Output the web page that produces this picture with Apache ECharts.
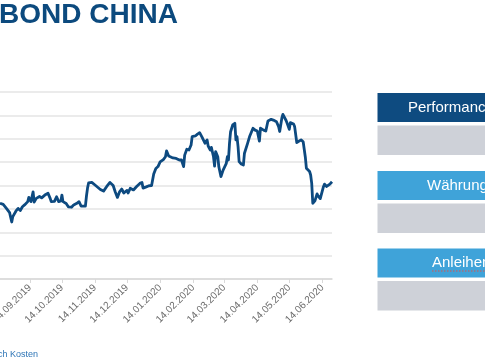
<!DOCTYPE html>
<html>
<head>
<meta charset="utf-8">
<script src="https://cdn.jsdelivr.net/npm/echarts@6/dist/echarts.min.js"></script>
<style>
html,body{margin:0;padding:0;background:#fff;}
#chart{width:485px;height:360px;}
</style>
</head>
<body>
<div id="chart"></div>
<script>
var dates = [
'2019-08-17','2019-08-20','2019-08-23','2019-08-26','2019-08-28','2019-08-29','2019-09-01','2019-09-03','2019-09-05','2019-09-07',
'2019-09-09','2019-09-12','2019-09-13','2019-09-15','2019-09-17','2019-09-18','2019-09-20','2019-09-23','2019-09-25','2019-09-28',
'2019-10-01','2019-10-03','2019-10-04','2019-10-07','2019-10-09','2019-10-11','2019-10-13','2019-10-14','2019-10-15','2019-10-18',
'2019-10-20','2019-10-23','2019-10-25','2019-10-28','2019-10-30','2019-11-01','2019-11-05','2019-11-06','2019-11-07','2019-11-08',
'2019-11-11','2019-11-14','2019-11-19','2019-11-22','2019-11-25','2019-11-28','2019-12-01','2019-12-03','2019-12-05','2019-12-07',
'2019-12-09','2019-12-11','2019-12-14','2019-12-15','2019-12-17','2019-12-20','2019-12-23','2019-12-26','2019-12-28','2019-12-29',
'2020-01-01','2020-01-03','2020-01-06','2020-01-07','2020-01-08','2020-01-10','2020-01-12','2020-01-14','2020-01-15','2020-01-17',
'2020-01-19','2020-01-20','2020-01-22','2020-01-23','2020-01-26','2020-01-29','2020-02-01','2020-02-03','2020-02-05','2020-02-06',
'2020-02-08','2020-02-10','2020-02-12','2020-02-13','2020-02-16','2020-02-18','2020-02-20','2020-02-21','2020-02-22','2020-02-23',
'2020-02-25','2020-02-27','2020-02-28','2020-03-01','2020-03-02','2020-03-04','2020-03-05','2020-03-06','2020-03-08','2020-03-09',
'2020-03-11','2020-03-13','2020-03-16','2020-03-17','2020-03-18','2020-03-19','2020-03-20','2020-03-22','2020-03-24','2020-03-25',
'2020-03-26','2020-03-27','2020-03-28','2020-03-30','2020-04-01','2020-04-02','2020-04-05','2020-04-07','2020-04-10','2020-04-12',
'2020-04-14','2020-04-16','2020-04-17','2020-04-20','2020-04-22','2020-04-24','2020-04-27','2020-04-29','2020-04-30','2020-05-02',
'2020-05-04','2020-05-05','2020-05-07','2020-05-08','2020-05-11','2020-05-12','2020-05-14','2020-05-15','2020-05-18','2020-05-19',
'2020-05-21','2020-05-22','2020-05-25','2020-05-27','2020-05-29','2020-05-30','2020-06-02','2020-06-03','2020-06-04','2020-06-05',
'2020-06-07','2020-06-09','2020-06-10','2020-06-12','2020-06-15','2020-06-16','2020-06-18','2020-06-19','2020-06-21','2020-06-23'
];
var values = [
99.24,99.19,99.02,98.84,98.44,98.67,98.91,99.02,98.93,99.09,
99.17,99.31,99.49,99.31,99.73,99.29,99.45,99.53,99.47,99.59,
99.67,99.45,99.31,99.32,99.52,99.31,99.34,99.59,99.31,99.23,
99.09,99.07,99.17,99.24,99.31,99.12,99.12,99.55,99.89,100.11,
100.13,100.02,99.83,99.76,99.96,100.13,100.00,99.72,99.49,99.73,
99.85,99.68,99.79,99.68,99.88,99.81,99.96,100.09,100.13,99.89,
99.94,99.98,100.00,99.98,100.49,100.73,100.81,101.01,100.94,101.11,
101.23,101.48,101.26,101.21,101.18,101.16,101.09,101.09,100.81,101.30,
101.55,101.52,101.73,102.09,102.12,102.20,102.26,102.30,102.09,102.02,
101.81,101.95,101.69,101.52,101.63,101.23,100.83,101.45,101.23,100.80,
100.38,100.66,100.95,101.23,101.09,101.81,102.30,102.59,102.66,101.95,
102.09,101.66,101.02,100.92,100.88,101.38,101.81,102.12,102.45,102.37,
102.33,101.90,102.45,102.37,102.33,102.76,102.83,102.80,102.87,102.73,
102.52,102.31,102.88,103.04,102.78,102.66,102.40,102.69,102.63,102.52,
101.84,101.87,101.95,101.87,101.22,100.74,100.60,100.45,100.09,99.24,
99.34,99.64,99.55,99.44,99.95,100.06,99.96,99.98,100.06,100.16
];
var tickDates = ['2019-09-14','2019-10-14','2019-11-14','2019-12-14','2020-01-14','2020-02-14','2020-03-14','2020-04-14','2020-05-14','2020-06-14'];
var titleText = 'BOND CHINA';
var footText = 'ch Kosten';
var panelHeaders = ['Performance', 'Währungen', 'Anleihen'];

function ts(s){ var p = s.split('-'); return new Date(+p[0], +p[1]-1, +p[2]).getTime(); }
function pad(n){ return (n<10?'0':'')+n; }

var seriesData = dates.map(function(d,i){ return [ts(d), values[i]]; });
var tickTs = tickDates.map(ts);

var chart = echarts.init(document.getElementById('chart'), null, {renderer:'canvas'});

var headerColors = ['#0e4b80', '#3fa3d9', '#3fa3d9'];
var headerTops = [93, 171, 248.5];
var headerTextX = [408, 427, 432];
var graphics = [
  {type:'text', style:{text:titleText, x:-1, y:15.5, fill:'#0c4a7e', font:'bold 28px "Liberation Sans", Arial, sans-serif', verticalAlign:'middle'}},
  {type:'text', style:{text:footText, x:-2, y:354.7, fill:'#2e75b6', font:'9px "Liberation Sans", Arial, sans-serif', verticalAlign:'middle'}}
];
for (var i=0;i<3;i++){
  var t = headerTops[i];
  graphics.push({type:'rect', shape:{x:377.5, y:t, width:200, height:29}, style:{fill:headerColors[i]}});
  graphics.push({type:'rect', shape:{x:377.5, y:t+32.5, width:200, height:29.5}, style:{fill:'#ced1d8'}});
  graphics.push({type:'text', style:{text:panelHeaders[i], x:headerTextX[i], y:t+14.5, fill:'#ffffff', font:'15px "Liberation Sans", Arial, sans-serif', verticalAlign:'middle'}});
}
graphics.push({type:'line', shape:{x1:432, y1:271, x2:485, y2:271}, style:{stroke:'#d9534f', lineWidth:1, lineDash:[1.5,1.5]}});

var option = {
  animation:false,
  backgroundColor:'#ffffff',
  grid:{left:0, right:153, top:92, height:187, containLabel:false, outerBoundsMode:'none'},
  xAxis:{
    type:'value',
    min: ts('2019-08-17'),
    max: ts('2020-06-23'),
    axisLine:{show:true, lineStyle:{color:'#d9d9d9', width:1.5}},
    axisTick:{show:true, length:4, lineStyle:{color:'#d9d9d9'}, customValues: tickTs},
    splitLine:{show:false},
    axisLabel:{
      customValues: tickTs,
      rotate:45,
      margin:7,
      color:'#6b6b6b',
      fontSize:10,
      fontFamily:'"Liberation Sans", Arial, sans-serif',
      formatter:function(v){ var d=new Date(v); return pad(d.getDate())+'.'+pad(d.getMonth()+1)+'.'+d.getFullYear(); }
    }
  },
  yAxis:{
    type:'value',
    min:96, max:104, interval:1,
    axisLine:{show:false},
    axisTick:{show:false},
    axisLabel:{show:false},
    splitLine:{show:true, lineStyle:{color:'#e4e4e4', width:1.5}}
  },
  series:[{
    type:'line',
    data:seriesData,
    showSymbol:false,
    symbol:'none',
    lineStyle:{color:'#0d4a80', width:2.8, join:'round'},
    z:5
  }],
  graphic: graphics
};
chart.setOption(option);
</script>
</body>
</html>
